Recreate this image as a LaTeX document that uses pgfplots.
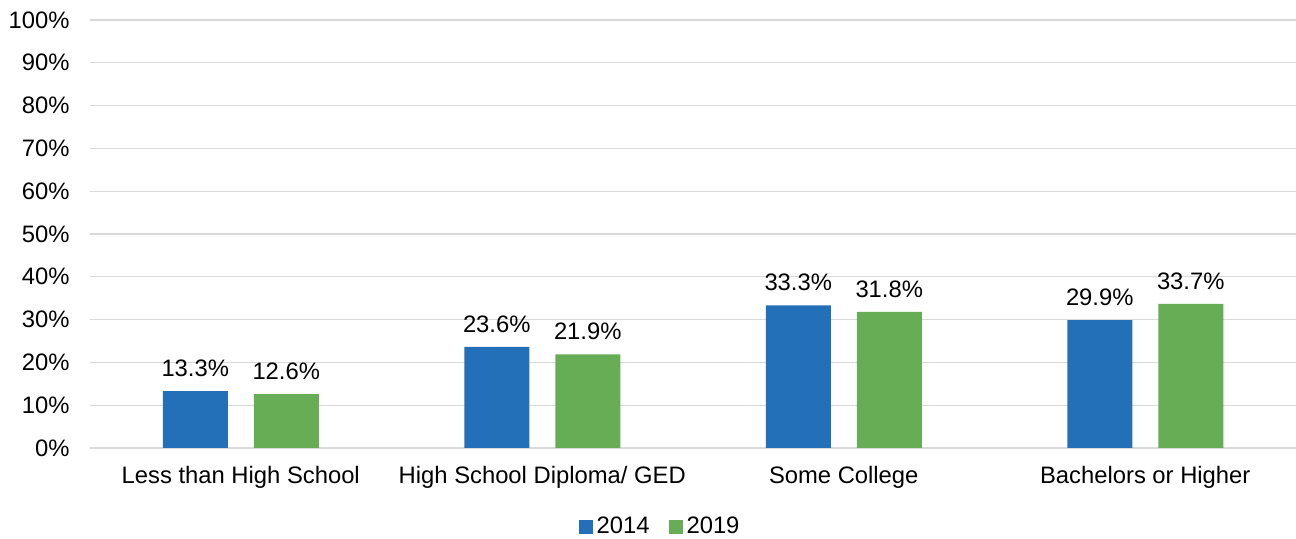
\documentclass[border=0pt]{standalone}
\usepackage{pgfplots}
\pgfplotsset{compat=1.18}
\usepackage{fontspec}
\setmainfont{Liberation Sans}
\definecolor{barblue}{RGB}{36,112,184}
\definecolor{bargreen}{RGB}{102,173,85}
\definecolor{gridgray}{RGB}{217,217,217}
\begin{document}
\fontsize{11.9}{14}\selectfont
\begin{tikzpicture}
\begin{axis}[
  scale only axis,
  width=603pt, height=214pt,
  xmin=-0.5, xmax=3.5,
  ymin=0, ymax=100,
  ytick={0,10,...,100},
  yticklabel={\pgfmathprintnumber{\tick}\%},
  xtick={0,1,2,3},
  xticklabels={Less than High School, High School Diploma/ GED, Some College, Bachelors or Higher},
  /pgf/number format/assume math mode=true,
  ybar=13pt, bar width=32.5pt,
  axis line style={draw=none},
  major tick length=0pt,
  ymajorgrids, grid style={gridgray, line width=0.6pt},
  tick label style={font=\fontsize{11.9}{14}\selectfont},
  yticklabel style={inner sep=0pt, xshift=-10pt},
  xticklabel style={inner sep=0pt, yshift=-9pt},
  nodes near coords={\pgfmathprintnumber[fixed,precision=1,fixed zerofill]{\pgfplotspointmeta}\%},
  nodes near coords style={font=\fontsize{11.9}{14}\selectfont, inner sep=0pt, yshift=7pt, anchor=south},
  legend columns=2,
  legend style={draw=none, at={(0.4735,0)}, anchor=center, yshift=-39.5pt,
    font=\fontsize{11.9}{14}\selectfont,
    /tikz/every even column/.append style={column sep=7.5pt}},
  legend cell align=left,
  legend image code/.code={\fill[#1] (0pt,-3.5pt) rectangle (7pt,3.5pt);},
]
\addplot[fill=barblue, draw=none] coordinates {(0,13.3) (1,23.6) (2,33.3) (3,29.9)};
\addplot[fill=bargreen, draw=none] coordinates {(0,12.6) (1,21.9) (2,31.8) (3,33.7)};
\legend{2014, 2019}
\end{axis}
\pgfresetboundingbox
\path ([shift={(-45pt,-45.5pt)}]current axis.south west) rectangle ([shift={(0pt,10pt)}]current axis.north east);
\end{tikzpicture}
\end{document}
